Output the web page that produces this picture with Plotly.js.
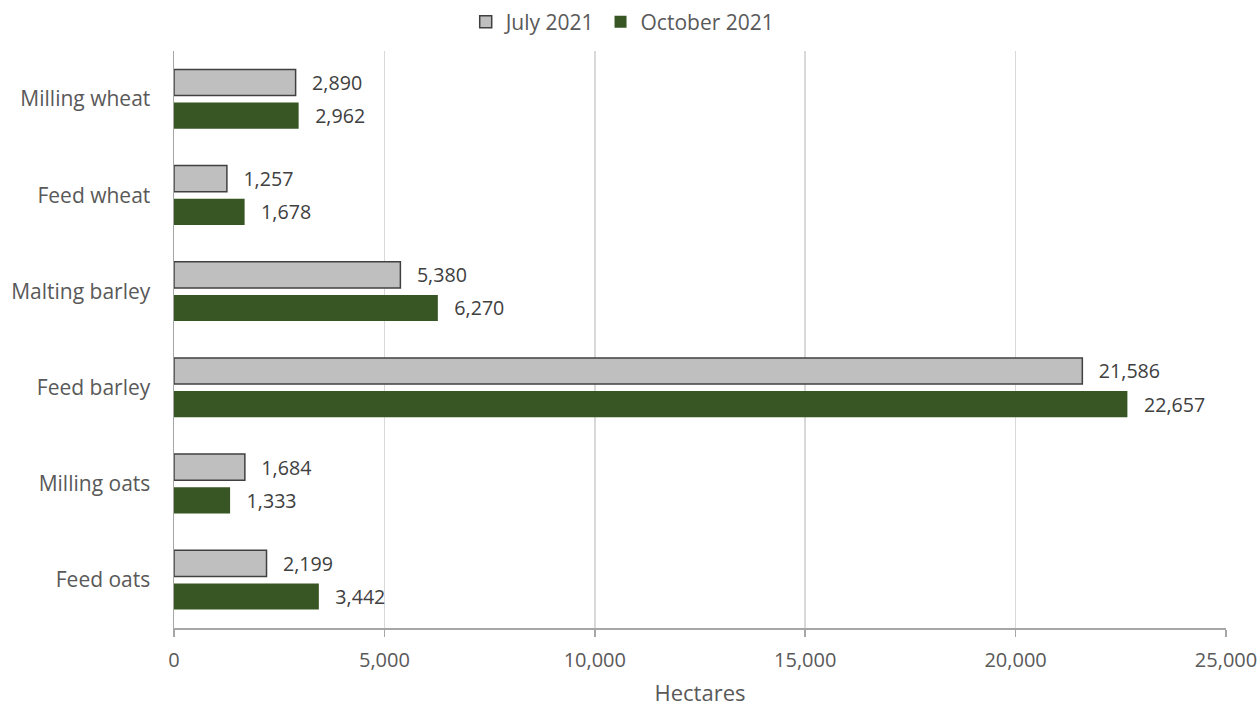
<!DOCTYPE html>
<html>
<head>
<meta charset="utf-8">
<script src="https://cdn.plot.ly/plotly-3.0.1.min.js"></script>
<style>html,body{margin:0;padding:0;background:#fff;}#chart{width:1258px;height:707px;}</style>
</head>
<body>
<div id="chart"></div>
<script>
const categories = ["Milling wheat", "Feed wheat", "Malting barley", "Feed barley", "Milling oats", "Feed oats"];
const july2021 = [2890, 1257, 5380, 21586, 1684, 2199];
const october2021 = [2962, 1678, 6270, 22657, 1333, 3442];
const seriesNames = ["July 2021", "October 2021"];
const xTicks = [0, 5000, 10000, 15000, 20000, 25000];

const FAM = "Open Sans, sans-serif";
const labelPad = "\u00a0\u00a0\u2009";

const traces = [
  {
    type: "bar", orientation: "h", name: seriesNames[0],
    y: categories, x: july2021,
    marker: {color: "#BFBFBF", line: {color: "#404040", width: 1.5}},
    texttemplate: labelPad + "%{x:,}", textposition: "outside",
    textfont: {family: FAM, size: 21, color: "#404040"},
    cliponaxis: false
  },
  {
    type: "bar", orientation: "h", name: seriesNames[1],
    y: categories, x: october2021,
    marker: {color: "#375623", line: {color: "#375623", width: 0}},
    texttemplate: labelPad + "%{x:,}", textposition: "outside",
    textfont: {family: FAM, size: 21, color: "#404040"},
    cliponaxis: false
  }
];

const layout = {
  width: 1258, height: 707,
  margin: {l: 174, r: 32, t: 51, b: 79, autoexpand: false},
  paper_bgcolor: "#fff", plot_bgcolor: "#fff",
  font: {family: FAM, size: 20, color: "#595959"},
  barmode: "group", bargap: 0.31, bargroupgap: 0.21,
  showlegend: true,
  legend: {orientation: "h", xref: "container", x: 0.495, xanchor: "center", y: 1.05, yanchor: "middle", yref: "paper",
           font: {family: FAM, size: 21, color: "#595959"}, traceorder: "normal", itemwidth: 30},
  xaxis: {
    range: [0, 25000], tickvals: xTicks, tickformat: ",",
    showgrid: true, gridcolor: "#D9D9D9", gridwidth: 1.5,
    zeroline: false, showline: true, linecolor: "#A6A6A6", linewidth: 1.5,
    ticks: "outside", ticklen: 7, tickcolor: "#A6A6A6", tickwidth: 1.5,
    ticklabelstandoff: 6, automargin: true,
    tickfont: {family: FAM, size: 20, color: "#595959"},
    title: {text: "Hectares", font: {family: FAM, size: 22, color: "#595959"}, standoff: 14}
  },
  yaxis: {
    autorange: "reversed", type: "category", automargin: false,
    showline: true, linecolor: "#A6A6A6", linewidth: 1.5,
    showgrid: false, ticks: "", ticklabelstandoff: 18,
    tickfont: {family: FAM, size: 21, color: "#595959"}
  }
};

Plotly.newPlot("chart", traces, layout, {displayModeBar: false, staticPlot: true});
</script>
</body>
</html>
